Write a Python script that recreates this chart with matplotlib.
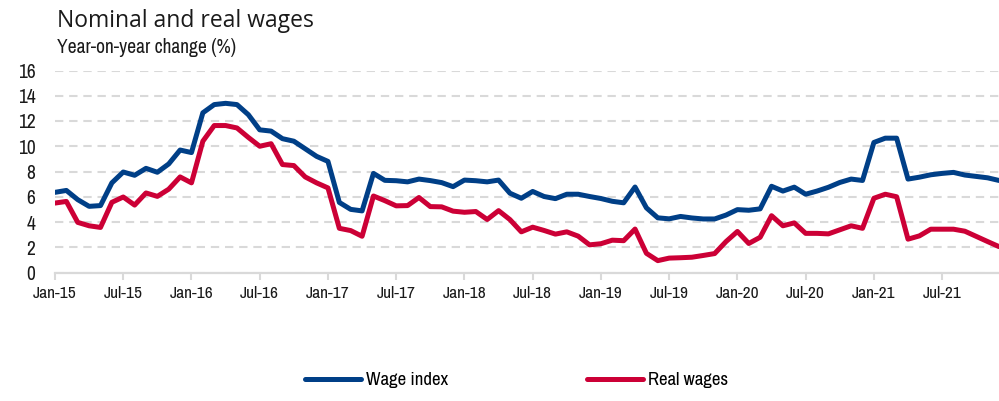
import numpy as np
import matplotlib.pyplot as plt
from matplotlib import font_manager
from matplotlib.font_manager import FontProperties

# monthly data, Jan-15 .. Dec-21, year-on-year change (%)
wage_index = [6.35, 6.5, 5.77, 5.24, 5.3, 7.1, 7.96, 7.7, 8.25, 7.94, 8.6, 9.7,
              9.5, 12.65, 13.3, 13.4, 13.3, 12.5, 11.3, 11.2, 10.6, 10.4, 9.8, 9.2,
              8.8, 5.55, 5.0, 4.88, 7.85, 7.3, 7.27, 7.18, 7.4, 7.28, 7.12, 6.8,
              7.32, 7.27, 7.18, 7.32, 6.28, 5.88, 6.42, 6.02, 5.85, 6.2, 6.2, 6.02,
              5.86, 5.64, 5.52, 6.77, 5.12, 4.33, 4.25, 4.44, 4.32, 4.24, 4.24, 4.55,
              4.98, 4.93, 5.04, 6.83, 6.45, 6.76, 6.2, 6.45, 6.75, 7.13, 7.4, 7.29,
              10.3, 10.64, 10.64, 7.4, 7.55, 7.74, 7.85, 7.93, 7.72, 7.61, 7.5, 7.29]
real_wages = [5.5, 5.63, 3.97, 3.7, 3.57, 5.56, 5.98, 5.34, 6.3, 6.03, 6.6, 7.57,
              7.1, 10.4, 11.64, 11.64, 11.45, 10.7, 10.0, 10.2, 8.55, 8.47, 7.57, 7.1,
              6.7, 3.5, 3.32, 2.87, 6.06, 5.69, 5.28, 5.3, 5.94, 5.22, 5.2, 4.86,
              4.77, 4.83, 4.2, 4.9, 4.19, 3.22, 3.59, 3.33, 3.04, 3.22, 2.88, 2.19,
              2.28, 2.56, 2.52, 3.44, 1.52, 0.94, 1.14, 1.17, 1.21, 1.35, 1.5, 2.45,
              3.25, 2.3, 2.79, 4.5, 3.7, 3.93, 3.1, 3.1, 3.06, 3.38, 3.7, 3.5,
              5.88, 6.2, 6.0, 2.64, 2.9, 3.43, 3.43, 3.43, 3.27, 2.86, 2.45, 2.05]
tick_labels = ['Jan-15', 'Jul-15', 'Jan-16', 'Jul-16', 'Jan-17', 'Jul-17', 'Jan-18',
               'Jul-18', 'Jan-19', 'Jul-19', 'Jan-20', 'Jul-20', 'Jan-21', 'Jul-21']
y_ticks = [0, 2, 4, 6, 8, 10, 12, 14, 16]

BLUE = '#003F87'
RED = '#CC0036'
GRID = '#D9D9D9'
TXT = '#1A1A1A'


# look for a narrow / condensed sans face, the reference uses a condensed font
def find_narrow():
    best = None
    for f in font_manager.fontManager.ttflist:
        st = f.stretch
        cond = ('Narrow' in f.name or 'Condensed' in f.name or
                st in ('condensed', 'semi-condensed', 'extra-condensed',
                       'ultra-condensed') or (isinstance(st, int) and st < 500))
        if not cond or f.style != 'normal' or f.weight not in (400, 'normal', 'regular'):
            continue
        if 'Mono' in f.name or 'Serif' in f.name:
            continue
        rank = 0 if 'Narrow' in f.name else 1 if 'Condensed' in f.name else 2
        if best is None or rank < best[0]:
            best = (rank, f.fname)
    return best[1] if best else None


narrow_file = find_narrow()


def fp(size):
    if narrow_file:
        return FontProperties(fname=narrow_file, size=size)
    return FontProperties(family='DejaVu Sans', size=size * 0.85)


fig = plt.figure(figsize=(9.99, 4.01), dpi=100)
ax = fig.add_axes([55/999, 128.5/401, 944/999, 202/401])

x = np.arange(len(wage_index))
ax.plot(x, wage_index, color=BLUE, lw=3.6, label='Wage index', zorder=3,
        solid_capstyle='round')
ax.plot(x, real_wages, color=RED, lw=3.6, label='Real wages', zorder=3,
        solid_capstyle='round')

ax.set_xlim(0, len(wage_index) - 1)
ax.set_ylim(0, 16)
ax.set_yticks(y_ticks)
ax.set_xticks(np.arange(len(tick_labels)) * 6)
ax.set_xticklabels(tick_labels)

ax.grid(axis='y', color=GRID, lw=1.5, linestyle=(0, (4, 2.8)))
ax.set_axisbelow(True)
for s in ['top', 'right', 'left']:
    ax.spines[s].set_visible(False)
ax.spines['bottom'].set_color(GRID)
ax.spines['bottom'].set_linewidth(1.6)

ax.tick_params(axis='y', length=0, pad=14, labelcolor=TXT)
ax.tick_params(axis='x', length=5, width=1.5, color=GRID, pad=5, labelcolor=TXT)
for lbl in ax.get_yticklabels():
    lbl.set_fontproperties(fp(14))
for lbl in ax.get_xticklabels():
    lbl.set_fontproperties(fp(12.5))

fig.text(57/999, 0.9327, 'Nominal and real wages', fontsize=16.5,
         family=['Open Sans', 'DejaVu Sans'], color=TXT, va='baseline')
fig.text(57/999, 0.868, 'Year-on-year change (%)', fontproperties=fp(14),
         color=TXT, va='baseline')

fig.legend(loc='center', bbox_to_anchor=(0.517, 0.052), ncol=2, frameon=False,
           prop=fp(13.5), handlelength=3.0, handletextpad=0.25, columnspacing=7.4)

fig.savefig('out.png', dpi=100)
